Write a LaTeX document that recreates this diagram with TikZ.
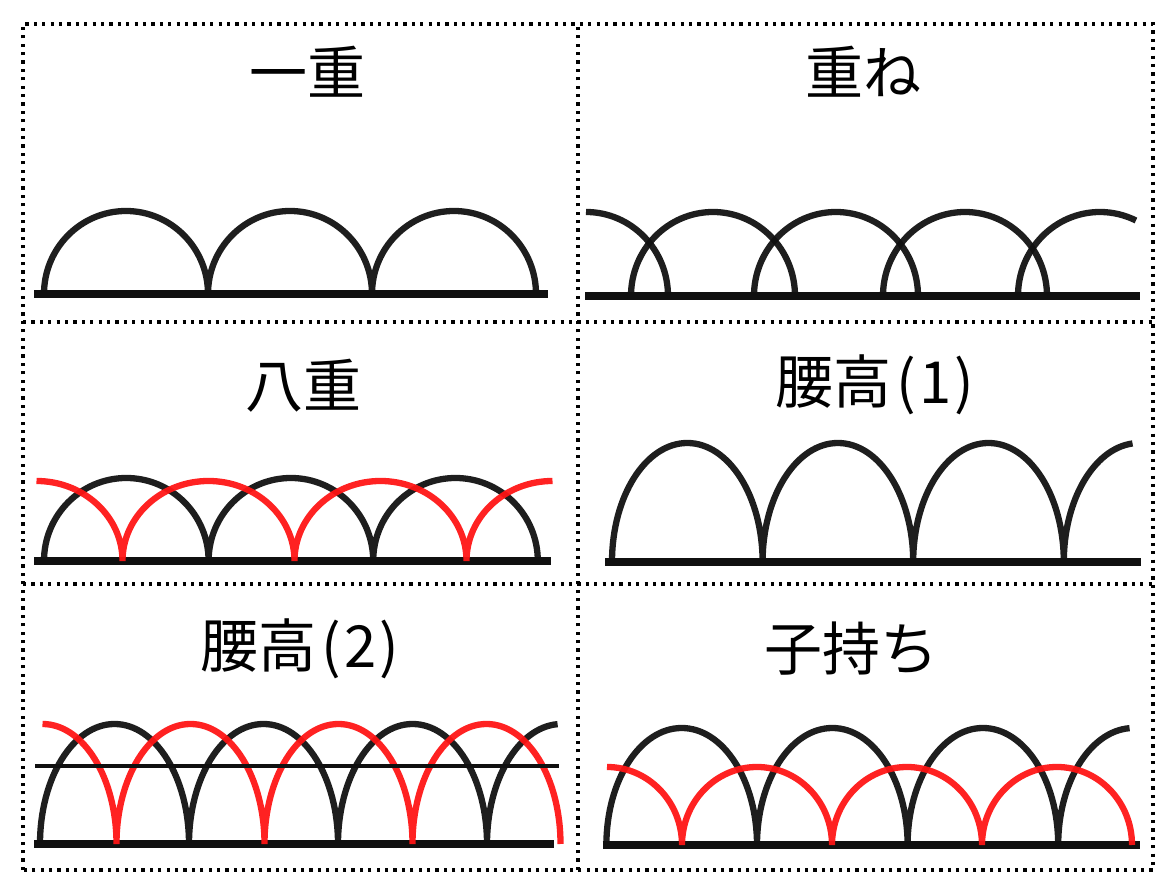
\documentclass[tikz,border=0pt]{standalone}
\usepackage{fontspec}
\setmainfont{Noto Sans CJK JP}
\usepackage{xcolor}
\usepackage{tikz}
\definecolor{archblack}{RGB}{16,16,16}
\definecolor{archred}{RGB}{255,20,20}

\begin{document}
\begin{tikzpicture}[x=1pt, y=1pt,
    blackarch/.style={line width=6.3pt, draw=archblack, draw opacity=0.94},
    redarch/.style={line width=6.3pt, draw=archred, draw opacity=0.94},
    ground/.style={line width=7.5pt, draw=archblack},
    rail/.style={line width=3.8pt, draw=archblack},
    frame/.style={line width=3.2pt, dash pattern=on 3.2pt off 5.2pt},
    title/.style={font=\fontsize{58}{62}\selectfont, inner sep=0pt}]
  \useasboundingbox (0,0) rectangle (1163,892);
  % ── Dotted frame ──────────────────────────────────────────
  \draw[frame] (23,22) rectangle (1153,868);
  \draw[frame] (578,22) -- (578,868);
  \draw[frame] (23,570) -- (1153,570);
  \draw[frame] (23,308) -- (1153,308);

  % ── Panel: 一重 ───────────────────────────────────────────
  \begin{scope}[shift={(23,570)}]
    \node[title] (hitoe) at (284,250) {一重};
    \draw[ground] (11,28) -- (525,28);
    \draw[blackarch] (21,28)
      arc[start angle=180, end angle=0, x radius=82, y radius=83]
      arc[start angle=180, end angle=0, x radius=82, y radius=83]
      arc[start angle=180, end angle=0, x radius=82, y radius=83];
  \end{scope}

  % ── Panel: 重ね ───────────────────────────────────────────
  \begin{scope}[shift={(578,570)}]
    \node[title] (kasane) at (285,250) {重ね};
    \draw[ground] (7,26) -- (562,26);
    % overlapping arcs, one path each
    \draw[blackarch] (8,110) arc[start angle=90, end angle=0, x radius=82, y radius=84];
    \draw[blackarch] (53,26) arc[start angle=180, end angle=0, x radius=82, y radius=84];
    \draw[blackarch] (176,26) arc[start angle=180, end angle=0, x radius=82, y radius=84];
    \draw[blackarch] (305,26) arc[start angle=180, end angle=0, x radius=82, y radius=84];
    \draw[blackarch] (440,26) arc[start angle=180, end angle=64, x radius=82, y radius=84];
  \end{scope}

  % ── Panel: 八重 ───────────────────────────────────────────
  \begin{scope}[shift={(23,308)}]
    \node[title] (yae) at (280,198) {八重};
    \draw[ground] (11,23) -- (528,23);
    \draw[blackarch] (21,23)
      arc[start angle=180, end angle=0, x radius=82.3, y radius=83]
      arc[start angle=180, end angle=0, x radius=82.3, y radius=83]
      arc[start angle=180, end angle=0, x radius=82.3, y radius=83];
    % red arcs, shifted half a span
    \draw[redarch] (13.5,103)
      arc[start angle=90, end angle=0, x radius=86, y radius=80]
      arc[start angle=180, end angle=0, x radius=86, y radius=80]
      arc[start angle=180, end angle=0, x radius=86, y radius=80]
      arc[start angle=180, end angle=90, x radius=86, y radius=80];
  \end{scope}

  % ── Panel: 腰高（1） ──────────────────────────────────────
  \begin{scope}[shift={(578,308)}]
    \node[title] (koshi1) at (297,199) {腰高\kern5pt(\kern3pt1\kern3pt)};
    \draw[ground] (27,22) -- (563,22);
    \draw[blackarch] (34,22)
      arc[start angle=180, end angle=0, x radius=75.3, y radius=119]
      arc[start angle=180, end angle=0, x radius=75.3, y radius=119]
      arc[start angle=180, end angle=0, x radius=75.3, y radius=119]
      arc[start angle=180, end angle=95, x radius=75.3, y radius=119];
  \end{scope}

  % ── Panel: 腰高（2） ──────────────────────────────────────
  \begin{scope}[shift={(23,22)}]
    \node[title] (koshi2) at (277,221) {腰高\kern5pt(\kern3pt2\kern3pt)};
    \draw[ground] (11,26) -- (531,26);
    \draw[blackarch] (17,26)
      arc[start angle=180, end angle=0, x radius=74.5, y radius=120]
      arc[start angle=180, end angle=0, x radius=74.5, y radius=120]
      arc[start angle=180, end angle=0, x radius=74.5, y radius=120]
      arc[start angle=180, end angle=93, x radius=74.5, y radius=120];
    \draw[redarch] (19.5,146)
      arc[start angle=90, end angle=0, x radius=74, y radius=120]
      arc[start angle=180, end angle=0, x radius=74, y radius=120]
      arc[start angle=180, end angle=0, x radius=74, y radius=120]
      arc[start angle=180, end angle=0, x radius=74, y radius=120];
    % thin rail across the arches
    \draw[rail] (12,104) -- (536,104);
  \end{scope}

  % ── Panel: 子持ち ─────────────────────────────────────────
  \begin{scope}[shift={(578,22)}]
    \node[title] (komochi) at (273,221) {子持ち};
    \draw[ground] (24.5,25) -- (562,25);
    \draw[blackarch] (28.4,25)
      arc[start angle=180, end angle=0, x radius=75.3, y radius=117]
      arc[start angle=180, end angle=0, x radius=75.3, y radius=117]
      arc[start angle=180, end angle=0, x radius=75.3, y radius=117]
      arc[start angle=180, end angle=93, x radius=75.3, y radius=117];
    % small red arcs centred on the black feet
    \draw[redarch] (29,103)
      arc[start angle=90, end angle=0, x radius=75, y radius=78]
      arc[start angle=180, end angle=0, x radius=75, y radius=78]
      arc[start angle=180, end angle=0, x radius=75, y radius=78]
      arc[start angle=180, end angle=0, x radius=75, y radius=78];
  \end{scope}
\end{tikzpicture}
\end{document}
